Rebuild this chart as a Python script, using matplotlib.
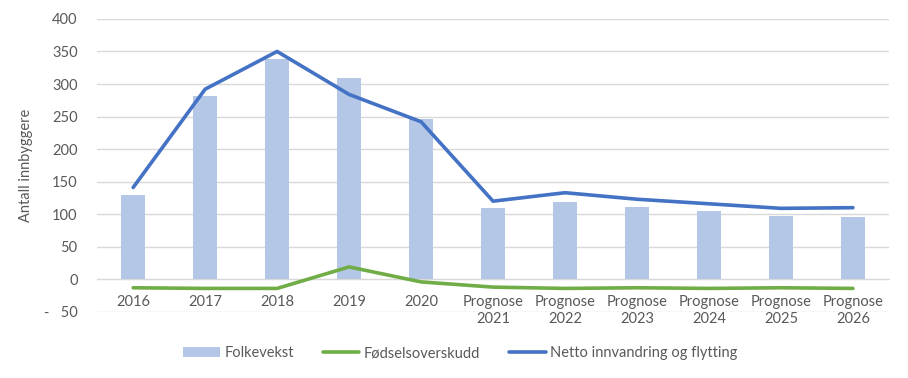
import matplotlib.pyplot as plt
import numpy as np

plt.rcParams['font.family'] = ['Lato', 'DejaVu Sans']

# data
years = ["2016", "2017", "2018", "2019", "2020",
         "Prognose\n2021", "Prognose\n2022", "Prognose\n2023",
         "Prognose\n2024", "Prognose\n2025", "Prognose\n2026"]
folkevekst = [129, 281, 338, 309, 246, 109, 118, 111, 105, 97, 96]
fodselsoverskudd = [-13, -14, -14, 19, -4, -12, -14, -13, -14, -13, -14]
netto_innvandring = [141, 292, 350, 284, 242, 120, 133, 123, 116, 109, 110]

grey = "#595959"
x = np.arange(len(years))

fig = plt.figure(figsize=(9.08, 3.78), dpi=100)
ax = fig.add_axes([0.107, 0.175, 0.872, 0.775])

b = ax.bar(x, folkevekst, width=0.33, color="#b4c7e7", label="Folkevekst", zorder=2)
l1, = ax.plot(x, fodselsoverskudd, color="#70ad47", lw=2.6, label="Fødselsoverskudd",
              solid_capstyle="round", zorder=3)
l2, = ax.plot(x, netto_innvandring, color="#4472c4", lw=2.6,
              label="Netto innvandring og flytting", solid_capstyle="round", zorder=3)

ax.set_xlim(-0.5, len(years) - 0.5)
ax.set_ylim(-50, 400)
yticks = np.arange(-50, 401, 50)
ax.set_yticks(yticks)
ax.set_yticklabels(["-   50" if v < 0 else str(v) for v in yticks])
ax.grid(axis="y", color="#d9d9d9", lw=1, zorder=0)
ax.set_axisbelow(True)

ax.spines["bottom"].set_position(("data", 0))
ax.spines["bottom"].set_color("#d9d9d9")
for s in ["top", "right", "left"]:
    ax.spines[s].set_visible(False)

ax.set_xticks(x)
ax.set_xticklabels(years)
ax.tick_params(axis="both", length=0, colors=grey, labelsize=10.5)
ax.tick_params(axis="x", pad=11)
ax.tick_params(axis="y", pad=14)
for lbl in ax.get_xticklabels():
    lbl.set_linespacing(1.3)

ax.set_ylabel("Antall innbyggere", color=grey, fontsize=10.5, labelpad=8)

ax.legend([b, l1, l2], [b.get_label(), l1.get_label(), l2.get_label()],
          loc="center", bbox_to_anchor=(0.507, 0.066), bbox_transform=fig.transFigure,
          ncol=3, frameon=False, fontsize=10.5, labelcolor=grey,
          handlelength=2.5, handletextpad=0.3, columnspacing=2.0)

fig.savefig("out.png", dpi=100)
